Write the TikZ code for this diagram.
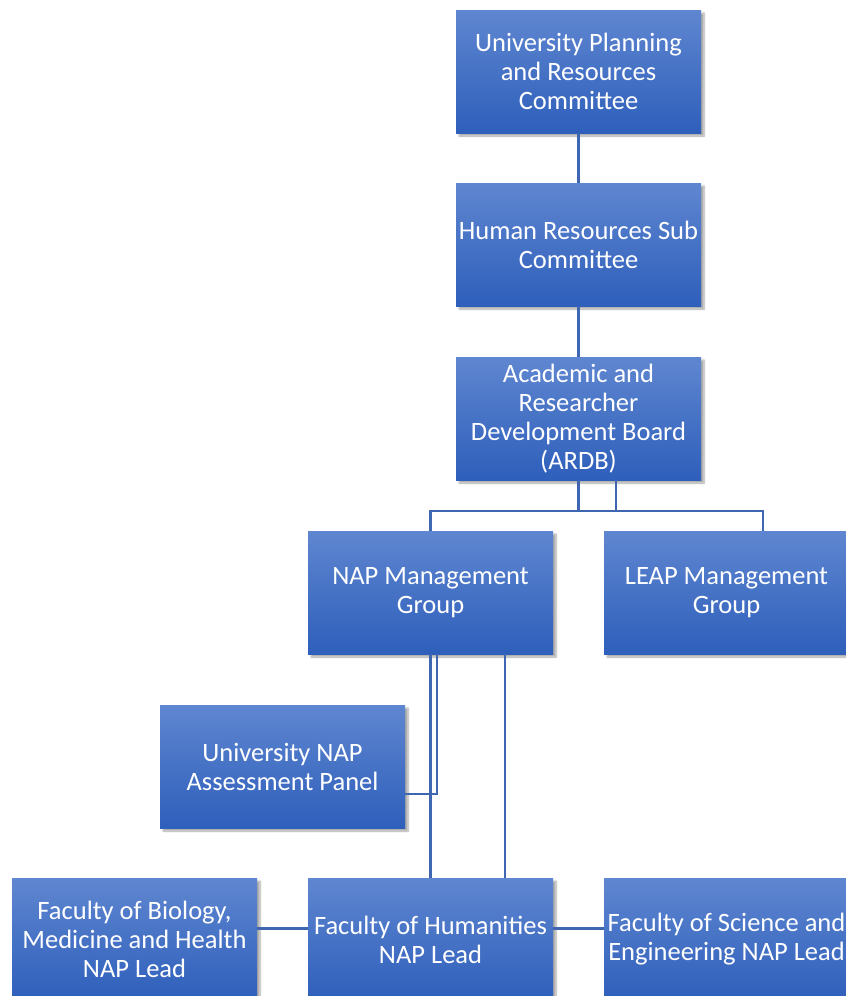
\documentclass[tikz,border=0pt]{standalone}
\usepackage{fontspec}
\setmainfont{Carlito}
\usepackage{tikz}
\usetikzlibrary{positioning,shadows.blur}
\definecolor{boxTop}{HTML}{5F86D0}
\definecolor{boxBottom}{HTML}{2E5FBB}
\definecolor{linkBlue}{HTML}{3F67B1}
\newcommand{\boxWidth}{245pt}
\newcommand{\boxHeight}{123pt}

\begin{document}
\begin{tikzpicture}[x=1pt, y=1pt,
		orgbox/.style={minimum width=\boxWidth, minimum height=\boxHeight, inner sep=0pt,
			top color=boxTop, bottom color=boxBottom, text=white, align=center,
			font=\fontsize{26.5}{29}\selectfont,
			blur shadow={shadow xshift=3pt, shadow yshift=-3pt, shadow blur steps=6, shadow opacity=35}},
		link/.style={draw=linkBlue, line width=2.2pt}]
	\useasboundingbox (0,0) rectangle (846,-996);
	\clip (0,0) rectangle (846,-996);
		% committees
		\node[orgbox] (uprc) at (578.5,-71.5) {University Planning\\and Resources\\Committee};
		\node[orgbox] (hrsc) at (578.5,-244.5) {Human Resources Sub\\Committee};
		\node[orgbox] (ardb) at (578.5,-418.5) {Academic and\\Researcher\\Development Board\\(ARDB)};
		% groups
		\node[orgbox] (napmg) at (430.5,-592.5) {NAP Management\\Group};
		\node[orgbox] (leapmg) at (726.5,-592.5) {LEAP Management\\Group};
		\node[orgbox] (panel) at (282.5,-766.5) {University NAP\\Assessment Panel};
		% faculty leads
		\node[orgbox] (fbmh) at (134.5,-939.5) {Faculty of Biology,\\Medicine and Health\\NAP Lead};
		\node[orgbox] (hum) at (430.5,-939.5) {Faculty of Humanities\\NAP Lead};
		\node[orgbox] (fse) at (726.5,-939.5) {Faculty of Science and\\Engineering NAP Lead};

		\coordinate (bus) at (0,-511);
		\coordinate (leapin) at ([xshift=36.5pt]leapmg.north);
		\coordinate (ardbout) at ([xshift=37.5pt]ardb.south);

		\draw[link] (uprc) -- (hrsc);
		\draw[link] (hrsc) -- (ardb);
		\draw[link] (ardb.south) |- (leapin |- bus) -- (leapin);
		\draw[link] (ardbout) |- (napmg.north |- bus) -- (napmg.north);
		\draw[link] (napmg.south) -- (hum.north);
		\draw[link] ([xshift=6.5pt]napmg.south) |- ([yshift=-27.5pt]panel.east);
		\draw[link] ([xshift=74.5pt]napmg.south) -- ([xshift=74.5pt]hum.north);
		\draw[link] ([yshift=11pt]fbmh.east) -- ([yshift=11pt]hum.west);
		\draw[link] ([yshift=11pt]hum.east) -- ([yshift=11pt]fse.west);
\end{tikzpicture}
\end{document}
